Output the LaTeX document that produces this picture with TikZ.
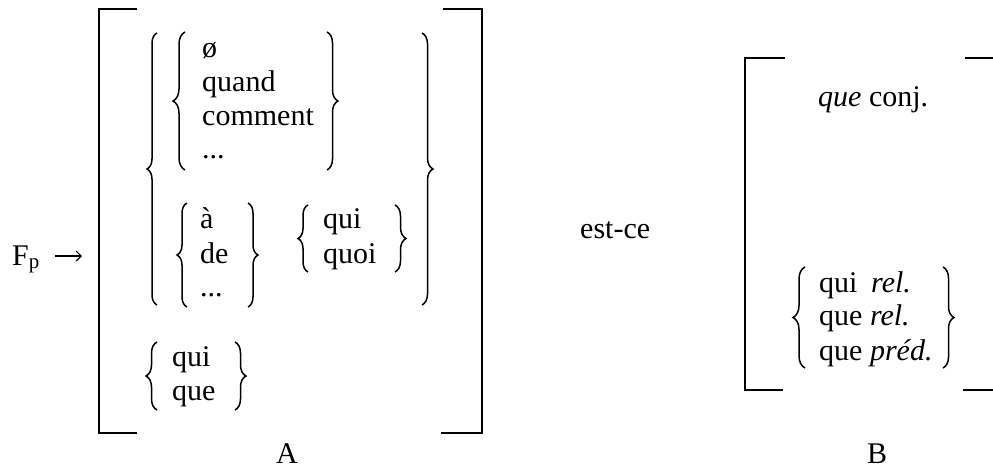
\documentclass[tikz,border=0pt]{standalone}
\usepackage{fontspec}
\setmainfont{Liberation Serif}
\usetikzlibrary{decorations.pathreplacing,arrows.meta}
\tikzset{
  word/.style={anchor=base west, inner sep=0pt},
  label/.style={anchor=base, inner sep=0pt},
  curly/.style={decorate, decoration={brace, amplitude=#1}, line width=1.5pt},
  curly/.default=10pt,
  bar/.style={line width=2.4pt},
}
\begin{document}
\begin{tikzpicture}[x=1pt, y=-1pt, font=\fontsize{30}{34}\selectfont]
	\useasboundingbox (0,0) rectangle (993,468);
	
	% --- Partie A ---
	\node[word] (Fp) at (12,265) {F\textsubscript{p}};
	\coordinate (fleche) at (82,256);
	\draw[-{Straight Barb[length=5pt]}, line width=1.1pt] ([shift={(15,-9)}]Fp.base east) -- (fleche);
	
	\draw[bar] (137,9) -- (99,9) -- (99,433) -- (137,433);
	\draw[bar] (443,9) -- (482,9) -- (482,433) -- (441,433);
	
	% accolades englobantes
	\draw[curly] (157,305) -- (157,33);
	\draw[curly=11pt] (422,33) -- (422,305);
	
	% premier groupe
	\node[word] (vide) at (202,58) {ø};
	\node[word] (quand) at (202,92) {quand};
	\node[word] (comment) at (202,125) {comment};
	\node[word] (etcA) at (202,158) {...};
	\draw[curly=12pt] (185,170) -- (185,32);
	\draw[curly=11pt] (327,32) -- (327,170);
	
	% prepositions
	\node[word] (a) at (200,228) {à};
	\node[word] (de) at (200,263) {de};
	\node[word] (etcB) at (200,296) {...};
	\draw[curly] (187,307) -- (187,203);
	\draw[curly] (248,203) -- (248,307);
	
	\node[word] (quiA) at (323,228) {qui};
	\node[word] (quoi) at (323,263) {quoi};
	\draw[curly] (308,272) -- (308,205);
	\draw[curly=11pt] (395,205) -- (395,272);
	
	% qui / que
	\node[word] (quiC) at (172,366) {qui};
	\node[word] (queC) at (172,400) {que};
	\draw[curly=11pt] (157,410) -- (157,342);
	\draw[curly=11pt] (235,342) -- (235,410);
	
	\node[label] (A) at (287,463) {A};
	
	% --- est-ce ---
	\node[word] (estce) at (580,238) {est-ce};
	
	% --- Partie B ---
	\draw[bar] (785,58) -- (745,58) -- (745,390) -- (783,390);
	\draw[bar] (965,58) -- (993,58);
	\draw[bar] (963,390) -- (993,390);
	
	\node[word] (conj) at (818,107) {\textit{que} conj.};
	
	\node[word] (quiR) at (819,292) {\makebox[52pt][l]{qui}\textit{rel.}};
	\node[word] (queR) at (819,325) {que \textit{rel.}};
	\node[word] (queP) at (819,360) {que \textit{préd.}};
	\draw[curly=12pt] (805,368) -- (805,267);
	\draw[curly=11pt] (943,267) -- (943,368);
	
	\node[label] (B) at (877,463) {B};
\end{tikzpicture}
\end{document}
